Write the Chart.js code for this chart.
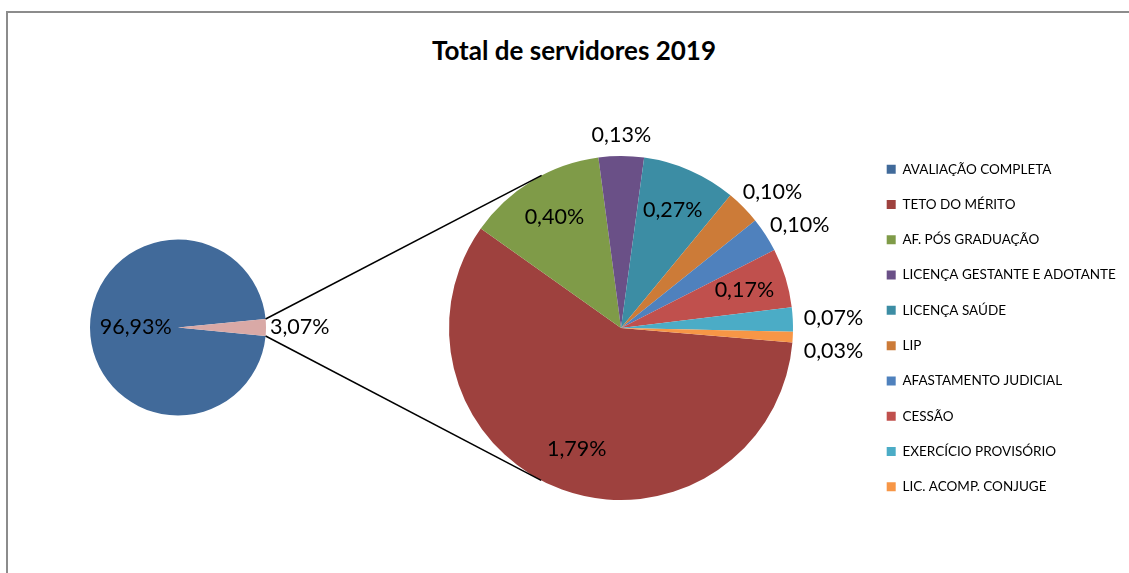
<!DOCTYPE html>
<html>
<head>
<meta charset="utf-8">
<script src="https://cdn.jsdelivr.net/npm/chart.js@4.4.0/dist/chart.umd.min.js"></script>
<style>
    html, body { margin: 0; padding: 0; background: #fff; overflow: hidden; }
    #wrap { position: relative; width: 1129px; height: 573px; overflow: hidden; background: #fff; }
    #frame { position: absolute; left: 6px; top: 11px; width: 1300px; height: 800px; border: 2px solid #8c8c8c; }
    #title { position: absolute; left: 0; top: 34px; width: 1148px; text-align: center; font: bold 26px Lato; color: #000; }
    canvas { position: absolute; left: 0; top: 0; }
</style>
</head>
<body>
<div id="wrap">
    <div id="frame"></div>
    <div id="title">Total de servidores 2019</div>
    <canvas id="mainPie" width="1129" height="573"></canvas>
    <canvas id="detailPie" width="1129" height="573"></canvas>
</div>
<script>
const mainLabels = ['AVALIAÇÃO COMPLETA', 'OUTROS'];
const mainValues = [96.93, 3.07];
const mainColors = ['#416A9A', '#D9A9A6'];

const detailLabels = ['TETO DO MÉRITO', 'AF. PÓS GRADUAÇÃO', 'LICENÇA GESTANTE E ADOTANTE', 'LICENÇA SAÚDE', 'LIP',
    'AFASTAMENTO JUDICIAL', 'CESSÃO', 'EXERCÍCIO PROVISÓRIO', 'LIC. ACOMP. CONJUGE'];
const detailValues = [1.79, 0.40, 0.13, 0.27, 0.10, 0.10, 0.17, 0.07, 0.03];
const detailColors = ['#9E413E', '#7F9B48', '#6A5087', '#3C8DA4', '#CC7B38', '#4F81BD', '#C0504D', '#4BACC6', '#F79646'];

const legendLabels = [mainLabels[0], ...detailLabels];
const legendColors = [mainColors[0], ...detailColors];

const sum = arr => arr.reduce((a, b) => a + b, 0);
const fmt = v => v.toFixed(2).replace('.', ',') + '%';
const LABEL_SIZE = 21.5;

// percentage labels, inside for big slices, outside for the small ones
const pctLabels = {
    id: 'pctLabels',
    afterDatasetsDraw(chart, args, opts) {
        const ctx = chart.ctx;
        const values = chart.data.datasets[0].data;
        const total = sum(values);
        let prev = null;
        ctx.save();
        ctx.font = LABEL_SIZE + 'px Lato';
        ctx.fillStyle = '#000';
        ctx.textAlign = 'center';
        ctx.textBaseline = 'middle';
        chart.getDatasetMeta(0).data.forEach((arc, i) => {
            const p = arc.getProps(['x', 'y', 'startAngle', 'endAngle', 'outerRadius']);
            const mid = (p.startAngle + p.endAngle) / 2;
            const cos = Math.cos(mid), sin = Math.sin(mid);
            const txt = fmt(values[i]);
            let x, y;
            if (values[i] / total >= 0.05) {
                x = p.x + cos * p.outerRadius * opts.inside;
                y = p.y + sin * p.outerRadius * opts.inside;
            } else {
                const w = ctx.measureText(txt).width;
                const r = p.outerRadius + opts.gap;
                x = p.x + cos * r + cos * w / 2;
                y = p.y + sin * r + sin * 10;
                // keep stacked outside labels from touching
                if (prev && Math.abs(x - prev.x) < w && y - prev.y < LABEL_SIZE * 1.5) {
                    y = prev.y + LABEL_SIZE * 1.5;
                }
                prev = { x, y };
            }
            ctx.fillText(txt, x, y);
        });
        ctx.restore();
    }
};

const mainChart = new Chart(document.getElementById('mainPie'), {
    type: 'pie',
    data: {
        labels: mainLabels,
        datasets: [{ data: mainValues, backgroundColor: mainColors, borderWidth: 0 }]
    },
    options: {
        responsive: false,
        animation: false,
        radius: 88,
        rotation: 90 + mainValues[1] / sum(mainValues) * 180,
        layout: { padding: { left: 0, right: 773, top: 82, bottom: 0 } },
        plugins: {
            legend: { display: false },
            tooltip: { enabled: false },
            pctLabels: { inside: 0.48, gap: 4 }
        }
    },
    plugins: [pctLabels]
});

// tangent lines from the small slice to the detail pie
const connector = {
    id: 'connector',
    afterDraw(chart) {
        const small = mainChart.getDatasetMeta(0).data[1].getProps(['x', 'y', 'startAngle', 'endAngle', 'outerRadius']);
        const big = chart.getDatasetMeta(0).data[0].getProps(['x', 'y', 'outerRadius']);
        const ctx = chart.ctx;
        ctx.save();
        ctx.strokeStyle = '#000';
        ctx.lineWidth = 1.5;
        [[small.startAngle, -1], [small.endAngle, 1]].forEach(([a, side]) => {
            const px = small.x + small.outerRadius * Math.cos(a);
            const py = small.y + small.outerRadius * Math.sin(a);
            const dx = px - big.x, dy = py - big.y;
            const t = Math.atan2(dy, dx) - side * Math.acos(big.outerRadius / Math.hypot(dx, dy));
            ctx.beginPath();
            ctx.moveTo(px, py);
            ctx.lineTo(big.x + big.outerRadius * Math.cos(t), big.y + big.outerRadius * Math.sin(t));
            ctx.stroke();
        });
        ctx.restore();
    }
};

const legendFont = 13.5;
const legendPad = 35.3 - legendFont;
const legendLeft = 864.4 - legendPad + 22.3;
const measure = document.createElement('canvas').getContext('2d');
measure.font = legendFont + 'px Lato';
const legendWidth = legendPad + 9 + legendFont / 2 + Math.max(...legendLabels.map(t => measure.measureText(t).width)) + 10;
const padRight = Math.max(0, 1129 - legendLeft - legendWidth);
const padLeft = 2 * 621 - legendLeft;

const detailChart = new Chart(document.getElementById('detailPie'), {
    type: 'pie',
    data: {
        labels: detailLabels,
        datasets: [{ data: detailValues, backgroundColor: detailColors, borderWidth: 0 }]
    },
    options: {
        responsive: false,
        animation: false,
        radius: 172,
        rotation: 94.8,
        layout: { padding: { left: padLeft, right: padRight, top: 88, bottom: 5 } },
        plugins: {
            legend: {
                position: 'right',
                align: 'center',
                maxWidth: 1129 - legendLeft,
                labels: {
                    boxWidth: 9,
                    boxHeight: 9,
                    padding: legendPad,
                    color: '#000',
                    font: { family: 'Lato', size: legendFont },
                    generateLabels: () => legendLabels.map((t, i) => ({
                        text: t, fillStyle: legendColors[i], strokeStyle: legendColors[i],
                        lineWidth: 0, hidden: false, index: i
                    }))
                }
            },
            tooltip: { enabled: false },
            pctLabels: { inside: 0.75, gap: 11 }
        }
    },
    plugins: [pctLabels, connector]
});
</script>
</body>
</html>
